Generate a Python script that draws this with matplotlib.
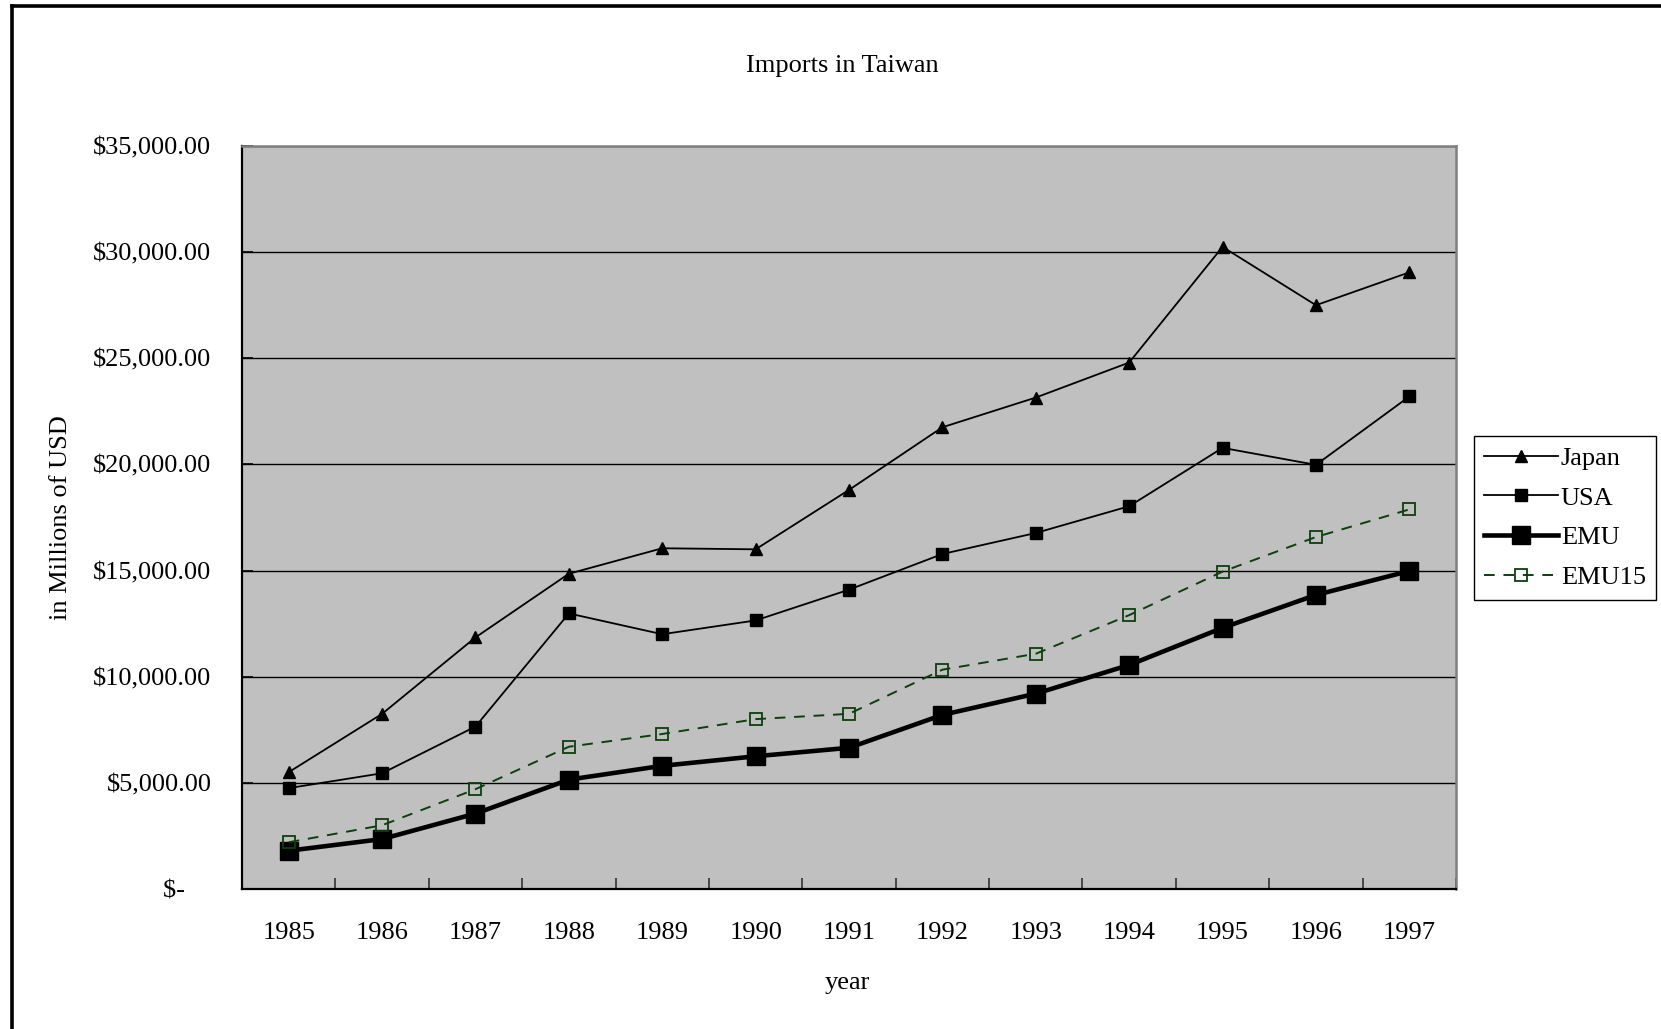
import matplotlib
matplotlib.use("Agg")
import matplotlib.pyplot as plt
from matplotlib.lines import Line2D
from matplotlib.ticker import FixedLocator, FuncFormatter

# Values (millions of USD)
years = [1985, 1986, 1987, 1988, 1989, 1990, 1991, 1992, 1993, 1994, 1995, 1996, 1997]
japan = [5500, 8250, 11850, 14850, 16050, 16000, 18800, 21750, 23150, 24800, 30250, 27500, 29050]
usa = [4750, 5450, 7650, 12980, 12000, 12650, 14100, 15780, 16770, 18030, 20780, 19980, 23200]
emu = [1800, 2350, 3550, 5150, 5800, 6250, 6650, 8200, 9200, 10550, 12300, 13850, 14980]
emu15 = [2200, 3000, 4700, 6700, 7300, 8000, 8250, 10330, 11080, 12900, 14950, 16580, 17880]

plt.rcParams["font.family"] = ["Liberation Serif", "DejaVu Serif"]

fig = plt.figure(figsize=(16.61, 10.29), dpi=100)
ax = fig.add_axes([0.1457, 0.1361, 0.7309, 0.7220])
ax.set_facecolor("#c0c0c0")

x = list(range(len(years)))

ax.plot(x, japan, color="black", lw=1.3, marker="^", ms=9, label="Japan", zorder=4)
ax.plot(x, usa, color="black", lw=1.3, marker="s", ms=8, label="USA", zorder=4)
ax.plot(x, emu, color="black", lw=3.3, marker="s", ms=12.5, label="EMU", zorder=4)
ax.plot(x, emu15, color="#0d3f0d", lw=1.4, ls=(0, (5.5, 4.5)), marker="s", ms=8,
        mfc="none", mec="#0d3f0d", mew=1.3, label="EMU15", zorder=4)

ax.set_xlim(-0.5, len(years) - 0.5)
ax.set_ylim(0, 35000)

# category labels centred, ticks on the boundaries
ax.xaxis.set_major_locator(FixedLocator(x))
ax.set_xticklabels([str(y) for y in years])
ax.xaxis.set_minor_locator(FixedLocator([i - 0.5 for i in range(len(years) + 1)]))
ax.tick_params(axis="x", which="major", length=0, pad=24, labelsize=19)
ax.tick_params(axis="x", which="minor", direction="in", length=8, width=1.2, color="#333333")

ax.yaxis.set_major_locator(FixedLocator(range(0, 35001, 5000)))


def money(v, pos):
    if v == 0:
        return "$-    "
    return "${:,.2f}".format(v)


ax.yaxis.set_major_formatter(FuncFormatter(money))
ax.tick_params(axis="y", direction="in", length=8, width=1.2, pad=22, labelsize=19)

ax.grid(axis="y", color="black", lw=1.0, zorder=1)
ax.set_axisbelow(True)

for side in ("left", "bottom"):
    ax.spines[side].set_color("black")
    ax.spines[side].set_linewidth(1.6)
for side in ("top", "right"):
    ax.spines[side].set_color("#808080")
    ax.spines[side].set_linewidth(1.8)

fig.text(0.507, 0.936, "Imports in Taiwan", ha="center", va="center", fontsize=19)
fig.text(0.037, 0.497, "in Millions of USD", ha="center", va="center", rotation=90, fontsize=19)
fig.text(0.510, 0.045, "year", ha="center", va="center", fontsize=19)

leg = ax.legend(loc="upper left", bbox_to_anchor=(1.0145, 0.610), fontsize=19,
                frameon=True, fancybox=False, framealpha=1, edgecolor="black",
                handlelength=2.8, handletextpad=0.1, labelspacing=0.62,
                borderpad=0.4, borderaxespad=0)
leg.get_frame().set_linewidth(1.0)

# thick black frame round the chart area (right/bottom edges fall outside the image)
fig.add_artist(Line2D([11.5 / 1661, 11.5 / 1661], [1 - 5.5 / 1029, -0.1],
                      transform=fig.transFigure, color="black", lw=2.6))
fig.add_artist(Line2D([11.5 / 1661, 1.1], [1 - 5.5 / 1029, 1 - 5.5 / 1029],
                      transform=fig.transFigure, color="black", lw=2.6))

fig.savefig("out.png", dpi=100)
plt.close(fig)
